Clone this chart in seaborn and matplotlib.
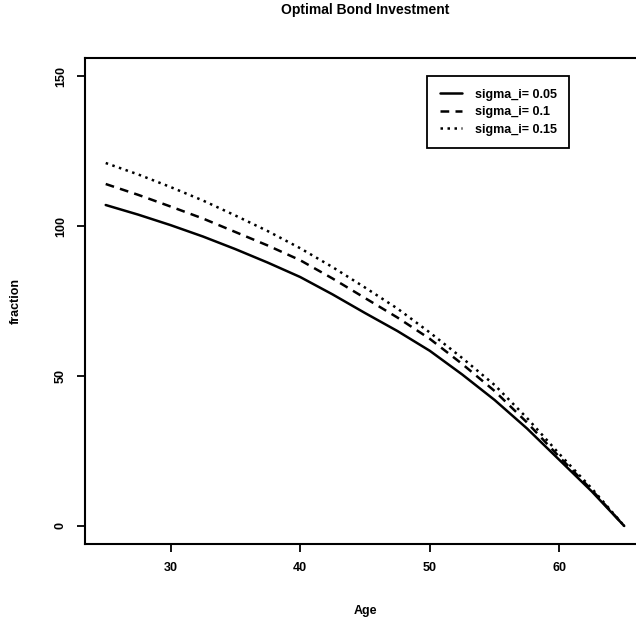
import matplotlib
matplotlib.use("Agg")
import matplotlib.pyplot as plt
import seaborn as sns
import pandas as pd

ages = [25, 27.5, 30, 32.5, 35, 37.5, 40, 42.5, 45, 47.5, 50, 52.5, 55, 57.5, 60, 62.5, 65]
sig005 = [107, 103.8, 100.3, 96.5, 92.3, 87.8, 83, 77.2, 71, 65, 58.4, 50.5, 42, 32.5, 22, 11.5, 0]
sig010 = [114, 110.4, 106.5, 102.5, 98, 93.5, 88.6, 82.5, 76, 69.5, 62.4, 54, 45, 34.5, 23, 12, 0]
sig015 = [121, 117.2, 113, 108.5, 103.5, 98.3, 92.6, 86.3, 79.5, 72.5, 64.5, 56, 47, 36, 24, 12.5, 0]
labels = ["sigma_i= 0.05", "sigma_i= 0.1", "sigma_i= 0.15"]
xticks = [30, 40, 50, 60]
yticks = [0, 50, 100, 150]

rows = []
for lab, vals in zip(labels, [sig005, sig010, sig015]):
    for a, v in zip(ages, vals):
        rows.append({"Age": a, "fraction": v, "series": lab})
df = pd.DataFrame(rows)

sns.set_style("white")
plt.rcParams['font.family'] = ['Liberation Sans', 'DejaVu Sans']
plt.rcParams['text.color'] = 'black'
plt.rcParams['axes.labelcolor'] = 'black'
plt.rcParams['xtick.color'] = 'black'
plt.rcParams['ytick.color'] = 'black'

fig = plt.figure(figsize=(6.36, 6.28), dpi=100)
ax = fig.add_axes([0.1336, 0.1338, 0.8805, 0.7738])

sns.lineplot(data=df, x="Age", y="fraction", style="series", style_order=labels,
             dashes={labels[0]: "", labels[1]: (3.5, 2.5), labels[2]: (1, 1.8)},
             color="black", linewidth=1.8, ax=ax, legend=False)

ax.set_xlim(23.4, 66.6)
ax.set_ylim(-6, 156)
ax.set_xticks(xticks)
ax.set_yticks(yticks)
ax.set_xticklabels([str(t) for t in xticks], fontsize=9, fontweight="bold")
ax.set_yticklabels([str(t) for t in yticks], fontsize=9, fontweight="bold",
                   rotation=90, va="center")
ax.tick_params(axis="both", direction="out", length=6, width=1.3, color="black",
               labelcolor="black", bottom=True, left=True, pad=7)
for s in ax.spines.values():
    s.set_color("black")
    s.set_linewidth(1.5)

ax.set_xlabel("Age", fontsize=9, fontweight="bold", labelpad=22, color="black")
ax.set_ylabel("fraction", fontsize=9, fontweight="bold", labelpad=24, color="black")
ax.set_title("Optimal Bond Investment", fontsize=10, fontweight="bold", pad=32,
             color="black")

from matplotlib.lines import Line2D
handles = [Line2D([], [], color="black", lw=1.8, ls="-"),
           Line2D([], [], color="black", lw=1.8, ls=(0, (3.5, 2.5))),
           Line2D([], [], color="black", lw=1.8, ls=(0, (1, 1.8)))]
leg = ax.legend(handles, labels, loc="upper left", bbox_to_anchor=(0.611, 0.963),
                frameon=True, fancybox=False, framealpha=1, edgecolor="black",
                prop={"size": 9, "weight": "bold"}, handlelength=1.8,
                borderpad=1.0, labelspacing=0.45, handletextpad=1.0, borderaxespad=0)
leg.get_frame().set_linewidth(1.3)
for t in leg.get_texts():
    t.set_color("black")

fig.savefig("out.png", dpi=100)
